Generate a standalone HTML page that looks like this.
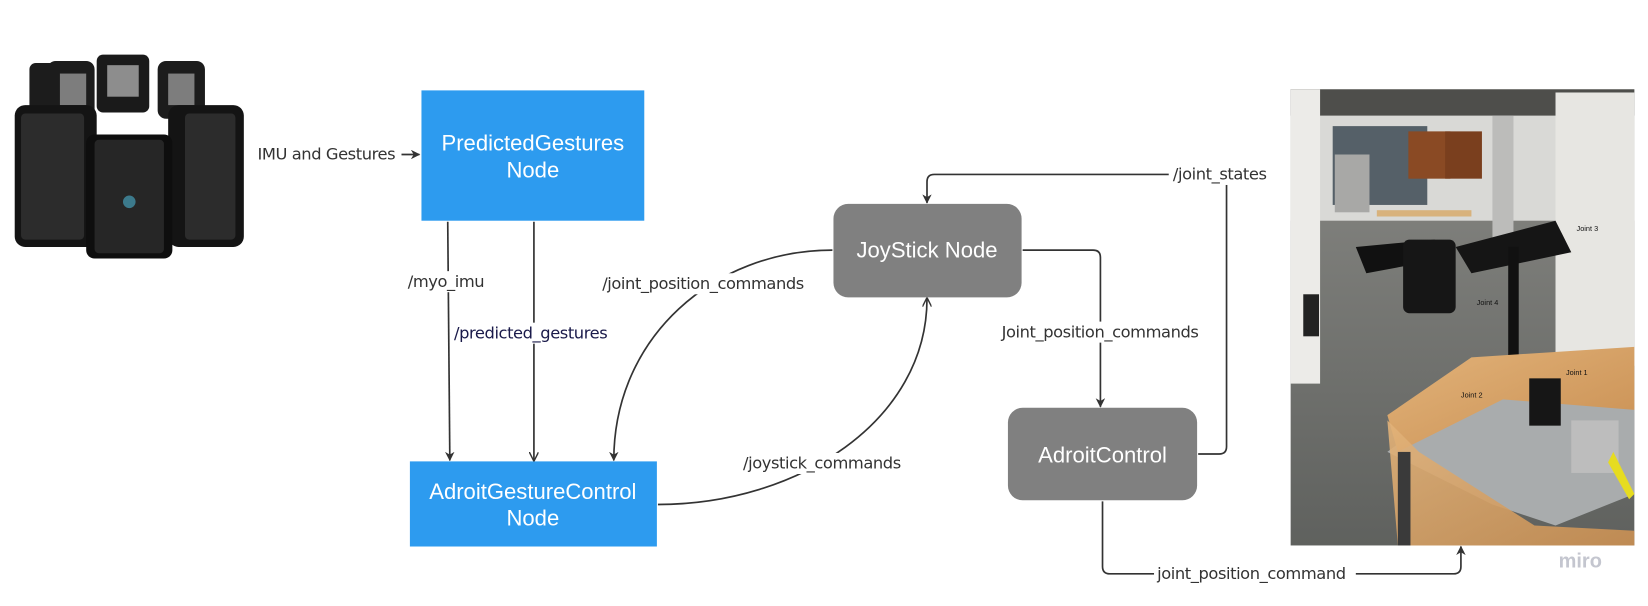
<!DOCTYPE html>
<html><head><meta charset="utf-8"><style>
html,body{margin:0;padding:0;background:#fff;}
svg{display:block;}
text{font-family:"Liberation Sans",sans-serif;}
.lbl{font-size:15.5px;fill:#333;font-family:"DejaVu Sans","Liberation Sans",sans-serif;letter-spacing:-0.4px}
.node{font-size:21px;fill:#fff;text-anchor:middle;}
</style></head><body>
<svg width="1648" height="606" viewBox="0 0 1568 576.6" preserveAspectRatio="none" xmlns="http://www.w3.org/2000/svg">
<defs>
<marker id="a" viewBox="0 0 10 10" refX="9" refY="5" markerWidth="9" markerHeight="9" orient="auto-start-reverse" markerUnits="userSpaceOnUse"><path d="M0,0 L10,5 L0,10 L3,5 z" fill="#333"/></marker>
<marker id="o" viewBox="0 0 10 10" refX="9" refY="5" markerWidth="9" markerHeight="9" orient="auto" markerUnits="userSpaceOnUse"><path d="M0,0 L10,5 L0,10" fill="none" stroke="#333" stroke-width="1.5"/></marker>
<linearGradient id="floor" x1="0" y1="0" x2="0" y2="1"><stop offset="0" stop-color="#8a8a86"/><stop offset="1" stop-color="#5f615e"/></linearGradient>
<linearGradient id="wood" x1="0" y1="0" x2="1" y2="1"><stop offset="0" stop-color="#e2b37a"/><stop offset="1" stop-color="#c98f52"/></linearGradient>
</defs>

<!-- Myo armband -->
<g>
<rect x="28" y="60" width="30" height="60" rx="6" fill="#1c1c1c"/>
<rect x="92" y="52" width="50" height="55" rx="6" fill="#1a1a1a"/>
<rect x="102" y="62" width="30" height="30" fill="#8d8d8d"/>
<rect x="150" y="58" width="45" height="55" rx="8" fill="#1c1c1c"/>
<rect x="45" y="58" width="45" height="55" rx="8" fill="#1c1c1c"/>
<rect x="57" y="70" width="25" height="30" fill="#7d7d7d"/>
<rect x="160" y="70" width="25" height="30" fill="#7d7d7d"/>
<rect x="14" y="100" width="78" height="135" rx="10" fill="#141414"/>
<rect x="20" y="108" width="60" height="120" rx="4" fill="#2c2c2c"/>
<rect x="160" y="100" width="72" height="135" rx="10" fill="#141414"/>
<rect x="176" y="108" width="48" height="120" rx="4" fill="#2c2c2c"/>
<rect x="82" y="128" width="82" height="118" rx="8" fill="#0e0e0e"/>
<rect x="90" y="133" width="66" height="108" rx="4" fill="#262626"/>
<circle cx="123" cy="192" r="6" fill="#3c7a8c"/>
</g>

<!-- Boxes -->
<rect x="401" y="86" width="212" height="124" fill="#2d9bef"/>
<text class="node" x="507" y="143">PredictedGestures</text>
<text class="node" x="507" y="169">Node</text>
<rect x="390" y="439" width="235" height="81" fill="#2d9bef"/>
<text class="node" x="507" y="475">AdroitGestureControl</text>
<text class="node" x="507" y="500">Node</text>
<rect x="793" y="194" width="179" height="89" rx="14" fill="#808080"/>
<text class="node" x="882" y="245">JoyStick Node</text>
<rect x="959" y="388" width="180" height="88" rx="14" fill="#808080"/>
<text class="node" x="1049" y="440">AdroitControl</text>

<!-- Connectors -->
<g fill="none" stroke="#333" stroke-width="1.6">
<path d="M382,147 L399,147" marker-end="url(#a)"/>
<path d="M426,211 L428,438" marker-end="url(#a)"/>
<path d="M508,211 L508,438" marker-end="url(#o)"/>
<path d="M792,238 C680,238 584,320 584,438" marker-end="url(#a)"/>
<path d="M626,480 C760,480 882,400 882,284" marker-end="url(#o)"/>
<path d="M1140,432 L1160,432 Q1167,432 1167,425 L1167,173 Q1167,166 1160,166 L889,166 Q882,166 882,173 L882,193" marker-end="url(#a)"/>
<path d="M973,238 L1040,238 Q1047,238 1047,245 L1047,387" marker-end="url(#a)"/>
<path d="M1049,477 L1049,539 Q1049,546 1056,546 L1383,546 Q1390,546 1390,539 L1390,520" marker-end="url(#a)"/>
</g>

<!-- Labels with white backgrounds -->
<rect x="386" y="258" width="80" height="20" fill="#fff"/>
<rect x="430" y="307" width="154" height="20" fill="#fff"/>
<rect x="570" y="260" width="204" height="20" fill="#fff"/>
<rect x="704" y="431" width="158" height="20" fill="#fff"/>
<rect x="1112" y="156" width="98" height="20" fill="#fff"/>
<rect x="950" y="306" width="198" height="20" fill="#fff"/>
<rect x="1098" y="536" width="192" height="20" fill="#fff"/>
<text class="lbl" x="245" y="152">IMU and Gestures</text>
<text class="lbl" x="388" y="273">/myo_imu</text>
<text class="lbl" x="432" y="322" style="fill:#1a1a4a">/predicted_gestures</text>
<text class="lbl" x="573" y="275">/joint_position_commands</text>
<text class="lbl" x="707" y="446">/joystick_commands</text>
<text class="lbl" x="1116" y="171">/joint_states</text>
<text class="lbl" x="953" y="321">Joint_position_commands</text>
<text class="lbl" x="1101" y="551">joint_position_command</text>

<!-- Photo -->
<g>
<rect x="1228" y="85" width="327" height="434" fill="url(#floor)"/>
<rect x="1228" y="85" width="327" height="125" fill="#d9d9d6"/>
<rect x="1228" y="85" width="327" height="25" fill="#4e4e4b"/>
<rect x="1228" y="85" width="28" height="280" fill="#ecebe8"/>
<rect x="1268" y="120" width="90" height="75" fill="#556068"/>
<rect x="1340" y="125" width="40" height="45" fill="#8a4a24"/>
<rect x="1375" y="125" width="35" height="45" fill="#7a3f1e"/>
<rect x="1270" y="147" width="33" height="55" fill="#a8a8a6"/>
<rect x="1420" y="110" width="20" height="120" fill="#bcbcba"/>
<rect x="1480" y="88" width="75" height="260" fill="#e7e6e2"/>
<rect x="1310" y="200" width="90" height="6" fill="#d8b27c"/>
<path d="M1290,235 L1365,228 L1380,245 L1300,260 Z" fill="#111"/>
<rect x="1335" y="228" width="50" height="70" rx="6" fill="#161616"/>
<path d="M1385,235 L1480,210 L1495,240 L1400,260 Z" fill="#151515"/>
<rect x="1435" y="235" width="10" height="130" fill="#111"/>
<path d="M1320,430 L1420,355 L1555,370 L1555,470 L1480,500 L1420,480 Z" fill="#a9acad"/>
<path d="M1320,395 L1400,340 L1555,330 L1555,390 L1430,380 L1330,430 Z" fill="url(#wood)"/>
<path d="M1320,400 L1350,430 L1460,500 L1555,505 L1555,519 L1330,519 Z" fill="url(#wood)" opacity="0.9"/>
<rect x="1330" y="430" width="12" height="89" fill="#3a3a3a"/>
<rect x="1455" y="360" width="30" height="45" fill="#161616"/>
<rect x="1495" y="400" width="45" height="50" fill="#bdbdbd"/>
<path d="M1535,430 L1555,470 L1550,475 L1530,440 Z" fill="#e6dc20"/>
<rect x="1240" y="280" width="15" height="40" fill="#222"/>
<text x="1500" y="220" font-size="7" fill="#111">Joint 3</text>
<text x="1405" y="290" font-size="7" fill="#111">Joint 4</text>
<text x="1490" y="357" font-size="7" fill="#111">Joint 1</text>
<text x="1390" y="378" font-size="7" fill="#111">Joint 2</text>
</g>
<text x="1483" y="540" font-size="19" fill="#c4c6cf" font-family="Liberation Sans,sans-serif" font-weight="bold">miro</text>
</svg>
</body></html>
